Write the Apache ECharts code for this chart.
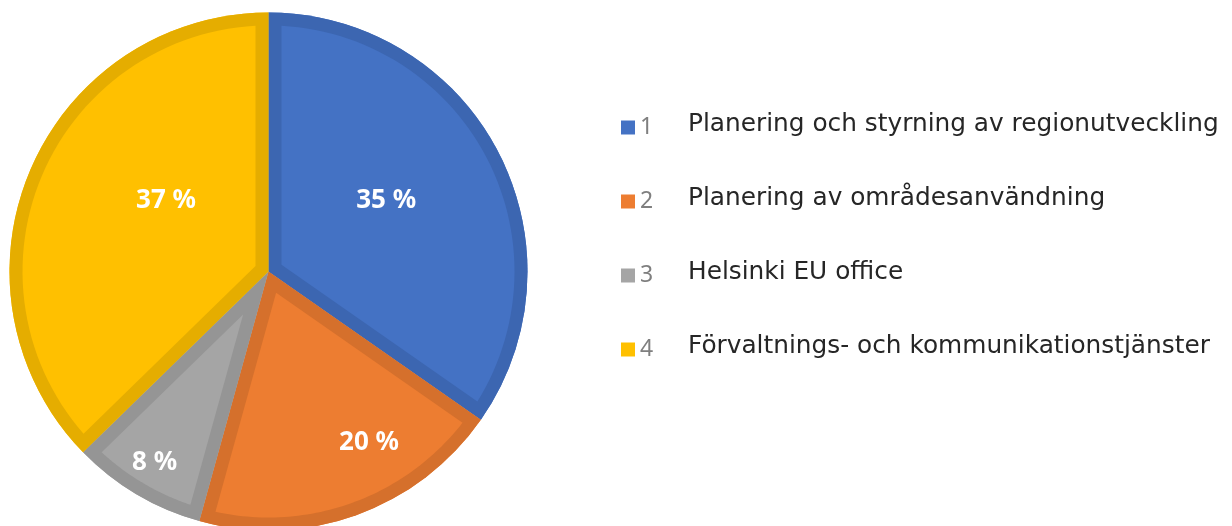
<!DOCTYPE html>
<html>
<head>
<meta charset="utf-8">
<script src="https://cdn.jsdelivr.net/npm/echarts@6/dist/echarts.min.js"></script>
<style>
  html, body { margin: 0; padding: 0; background: #fff; }
  #chart { width: 1232px; height: 526px; }
</style>
</head>
<body>
<div id="chart"></div>
<script>
// data
const categories = [
  'Planering och styrning av regionutveckling',
  'Planering av områdesanvändning',
  'Helsinki EU office',
  'Förvaltnings- och kommunikationstjänster'
]
const shares = [34.7, 19.6, 8.4, 37.3]

// colours: fill and the darker inner edge
const fillColors = ['#4472C4', '#ED7D31', '#A5A5A5', '#FFC000']
const edgeColors = ['#3C66B1', '#D5702C', '#959595', '#E5AD00']

const CX = 268.5
const CY = 271.5
const R = 259
const EDGE = 13
// Excel "best fit" nudges for the labels (px)
const labelNudge = [[-4, -7], [54, 42], [-44, 73], [24, -18]]

const total = shares.reduce((a, b) => a + b, 0)

function sliceAngles(i) {
  let before = 0
  for (let k = 0; k < i; k++) before += shares[k]
  const a0 = -Math.PI / 2 + before / total * Math.PI * 2
  const a1 = a0 + shares[i] / total * Math.PI * 2
  return [a0, a1]
}

function renderSlice(params, api) {
  const i = params.dataIndex
  const [a0, a1] = sliceAngles(i)
  const span = a1 - a0
  const mid = (a0 + a1) / 2
  // inset polygon: EDGE px in from every side
  const apexDist = EDGE / Math.sin(span / 2)
  const pts = [[CX + apexDist * Math.cos(mid), CY + apexDist * Math.sin(mid)]]
  const ri = R - EDGE
  const delta = Math.asin(EDGE / ri)
  const steps = 60
  for (let s = 0; s <= steps; s++) {
    const t = a0 + delta + (span - 2 * delta) * s / steps
    pts.push([CX + ri * Math.cos(t), CY + ri * Math.sin(t)])
  }
  const pct = Math.round(shares[i] / total * 100)
  const lr = R * 0.53
  return {
    type: 'group',
    children: [
      {
        type: 'sector',
        shape: { cx: CX, cy: CY, r: R, r0: 0, startAngle: a0, endAngle: a1, clockwise: true },
        style: { fill: edgeColors[i] }
      },
      {
        type: 'polygon',
        shape: { points: pts },
        style: { fill: fillColors[i] }
      },
      {
        type: 'text',
        z2: 10,
        style: {
          text: pct + ' %',
          x: CX + lr * Math.cos(mid) + labelNudge[i][0],
          y: CY + lr * Math.sin(mid) + labelNudge[i][1],
          fill: '#fff',
          fontSize: 26,
          fontWeight: 'bold',
          fontFamily: 'Noto Sans',
          align: 'center',
          verticalAlign: 'middle'
        }
      }
    ]
  }
}

const chart = echarts.init(document.getElementById('chart'))
chart.setOption({
  animation: false,
  legend: {
    orient: 'vertical',
    left: 621,
    top: 112,
    padding: 0,
    icon: 'rect',
    itemWidth: 14,
    itemHeight: 14,
    itemGap: 43,
    selectedMode: false,
    formatter: name => '{n|' + (categories.indexOf(name) + 1) + '}{t|' + name + '}',
    textStyle: {
      rich: {
        n: { color: '#7F7F7F', fontSize: 23, fontFamily: 'Noto Sans', width: 48, lineHeight: 30 },
        t: { color: '#262626', fontSize: 24.8, fontFamily: 'DejaVu Sans', lineHeight: 30, padding: [0, 0, 6, 0] }
      }
    }
  },
  series: [
    {
      type: 'pie',
      z: 1,
      silent: true,
      center: [CX, CY],
      radius: R,
      startAngle: 90,
      clockwise: true,
      label: { show: false },
      labelLine: { show: false },
      data: categories.map((name, i) => ({ name, value: shares[i], itemStyle: { color: fillColors[i] } }))
    },
    {
      type: 'custom',
      z: 3,
      silent: true,
      coordinateSystem: 'none',
      renderItem: renderSlice,
      data: shares
    }
  ]
})
</script>
</body>
</html>
